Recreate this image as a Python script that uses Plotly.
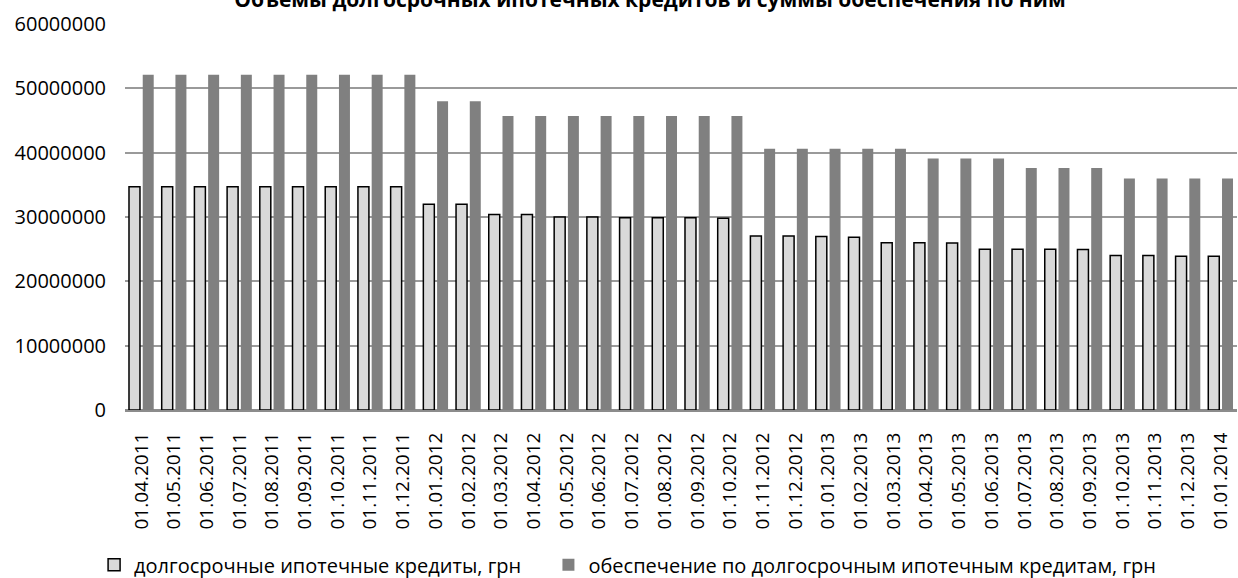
import plotly.graph_objects as go

categories = [
    "01.04.2011", "01.05.2011", "01.06.2011", "01.07.2011", "01.08.2011",
    "01.09.2011", "01.10.2011", "01.11.2011", "01.12.2011", "01.01.2012",
    "01.02.2012", "01.03.2012", "01.04.2012", "01.05.2012", "01.06.2012",
    "01.07.2012", "01.08.2012", "01.09.2012", "01.10.2012", "01.11.2012",
    "01.12.2012", "01.01.2013", "01.02.2013", "01.03.2013", "01.04.2013",
    "01.05.2013", "01.06.2013", "01.07.2013", "01.08.2013", "01.09.2013",
    "01.10.2013", "01.11.2013", "01.12.2013", "01.01.2014",
]

loans = [
    34700000, 34700000, 34700000, 34700000, 34700000,
    34700000, 34700000, 34700000, 34700000, 32000000,
    32000000, 30400000, 30400000, 30000000, 30000000,
    29900000, 29900000, 29900000, 29800000, 27050000,
    27050000, 26950000, 26850000, 26000000, 26000000,
    25950000, 25000000, 25000000, 25000000, 24950000,
    24000000, 24000000, 23900000, 23900000,
]

collateral = [
    52100000, 52100000, 52100000, 52100000, 52100000,
    52100000, 52100000, 52100000, 52100000, 48000000,
    48000000, 45700000, 45700000, 45700000, 45700000,
    45700000, 45700000, 45700000, 45700000, 40600000,
    40600000, 40600000, 40600000, 40600000, 39100000,
    39100000, 39100000, 37600000, 37600000, 37600000,
    36000000, 36000000, 36000000, 36000000,
]

y_ticks = [0, 10000000, 20000000, 30000000, 40000000, 50000000, 60000000]
y_tick_labels = [str(v) for v in y_ticks]

series_names = [
    "долгосрочные ипотечные кредиты, грн",
    "обеспечение по долгосрочным ипотечным кредитам, грн",
]

title_text = "Объемы долгосрочных ипотечных кредитов и суммы обеспечения по ним"

FONT = "Open Sans"

fig = go.Figure()
fig.add_trace(go.Bar(
    x=categories, y=loans, name=series_names[0], legend="legend",
    marker=dict(color="#d9d9d9", line=dict(color="#000000", width=1.5)),
))
fig.add_trace(go.Bar(
    x=categories, y=collateral, name=series_names[1], legend="legend2",
    marker=dict(color="#808080", line=dict(width=0)),
))

legend_common = dict(
    orientation="h", xanchor="left", xref="container",
    y=0.023, yanchor="middle", yref="container",
    font=dict(family=FONT, size=20, color="#000000"),
    bgcolor="rgba(0,0,0,0)", borderwidth=0,
)

fig.update_layout(
    width=1238, height=578,
    margin=dict(l=125, r=1, t=24, b=168, autoexpand=False),
    paper_bgcolor="white", plot_bgcolor="white",
    barmode="group", bargap=0.16, bargroupgap=0.2,
    font=dict(family=FONT, size=20, color="#000000"),
    title=dict(
        text="<b>" + title_text + "</b>",
        x=0.525, xanchor="center", xref="container",
        y=1.0, yanchor="middle", yref="container",
        font=dict(family=FONT, size=21, color="#000000"),
    ),
    showlegend=True,
    legend=dict(x=0.076, **legend_common),
    legend2=dict(x=0.443, **legend_common),
)

fig.update_xaxes(
    type="category", tickangle=-90, automargin=False,
    showgrid=False, showline=False,
    ticks="outside", ticklen=0, ticklabelstandoff=14,
    tickfont=dict(family=FONT, size=19, color="#000000"),
)
fig.update_yaxes(
    range=[0, 60000000], automargin=False,
    tickvals=y_ticks, ticktext=y_tick_labels,
    showgrid=True, gridcolor="#9a9a9a", gridwidth=2,
    zeroline=True, zerolinecolor="#8c8c8c", zerolinewidth=3,
    showline=False, ticks="", ticklabelstandoff=18,
    tickfont=dict(family=FONT, size=20, color="#000000"),
)

fig.write_html(
    "out.html",
    config={"displayModeBar": False},
    post_script="document.body.style.margin='0';document.body.style.padding='0';",
)
